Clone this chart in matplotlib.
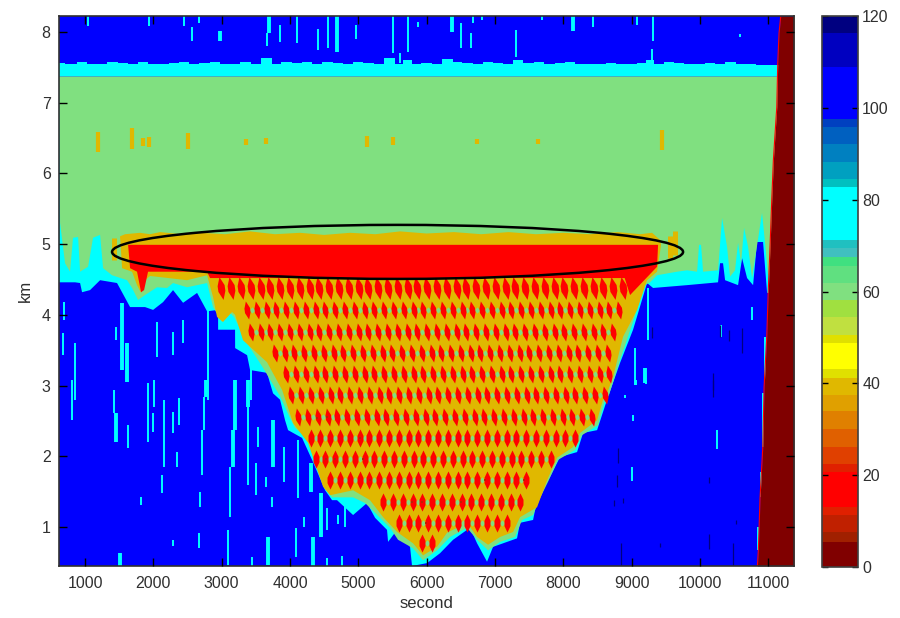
import matplotlib

matplotlib.use('Agg')  # Use a non-GUI backend
import matplotlib.pyplot as plt
import numpy as np

from matplotlib.cm import ScalarMappable
from matplotlib.colors import BoundaryNorm, ListedColormap
from matplotlib.patches import Ellipse

plt.rcParams['font.family'] = ['Liberation Sans', 'DejaVu Sans']

# colour scale
level_edges = [0, 5.5, 7.6, 11.3, 13.1, 20.6, 22.4, 26.2, 30, 33.9, 37.4, 41.2, 43.1, 48.7, 50.5, 54.4,
               58.2, 61.9, 65.6, 67.5, 69.4, 71.2, 82.7, 84.5, 88.2, 92.2, 95.9, 97.6, 108.8, 116.4, 120]
level_colors = ['#800000', '#a02000', '#c02000', '#e02000', '#ff0000', '#e02000', '#e04000', '#e06000',
                '#e08000', '#e0a000', '#e0b800', '#e0e000', '#ffff00', '#e0e000', '#c0e040', '#a0e040',
                '#80e080', '#60e080', '#40e080', '#40c0c0', '#20c0c0', '#00ffff', '#00c0c0', '#00a0c0',
                '#0080c0', '#0060c0', '#0040c0', '#0000ff', '#0000c0', '#000080']

# field values of the layers
blue_value = 100
cyan_value = 75
green_value = 60
gold_value = 40
red_value = 17
wall_value = 3
navy_value = 118
speck_value = 8

# upper edge of the cyan band near 7.5 km
band_t = [620, 800, 950, 1100, 1250, 1400, 1550, 1700, 1850, 2000, 2150, 2300, 2450, 2600, 2750, 2900, 3050, 3200,
          3350, 3500, 3665, 3800, 3950, 4100, 4250, 4400, 4550, 4700, 4850, 5000, 5150, 5300, 5465, 5600, 5714, 5850,
          6000, 6150, 6314, 6450, 6600, 6750, 6900, 7050, 7200, 7324, 7500, 7650, 7800, 7950, 8100, 8250, 8400, 8550,
          8700, 8850, 9000, 9150, 9271, 9400, 9550, 9700, 9850, 10000, 10150, 10300, 10450, 10600, 10750, 10900, 11050,
          11200]
band_h = [7.56, 7.55, 7.58, 7.54, 7.55, 7.57, 7.56, 7.54, 7.57, 7.55, 7.54, 7.56, 7.58, 7.55, 7.56, 7.57, 7.54, 7.55,
          7.58, 7.54, 7.63, 7.55, 7.57, 7.56, 7.58, 7.55, 7.57, 7.56, 7.55, 7.57, 7.56, 7.54, 7.63, 7.55, 7.60, 7.54,
          7.56, 7.55, 7.62, 7.58, 7.56, 7.55, 7.58, 7.56, 7.55, 7.60, 7.56, 7.57, 7.55, 7.56, 7.57, 7.54, 7.55, 7.54,
          7.56, 7.55, 7.54, 7.56, 7.60, 7.55, 7.57, 7.56, 7.54, 7.55, 7.56, 7.54, 7.57, 7.55, 7.54, 7.53, 7.53, 7.53]
green_top = 7.37

# top of the lower blue region
blue_t = [620, 854, 927, 956, 1073, 1220, 1468, 1659, 1878, 1996, 2142, 2288, 2435, 2640, 2786, 2947, 2948, 3196,
          3197, 3372, 3416, 3664, 3752, 3855, 3928, 3972, 4177, 4323, 4514, 4616, 4689, 4924, 5128, 5246, 5421, 5436,
          5568, 5758, 5787, 6007, 6197, 6388, 6636, 6739, 6885, 6973, 7324, 7368, 7559, 7617, 7808, 7954, 8203, 8291,
          8496, 8642, 8657, 8832, 9023, 9228, 9316, 9813, 10267, 10296, 10340, 10370, 10560, 10619, 10692, 10780,
          10838, 10926, 10985, 11200]
blue_h = [4.46, 4.46, 4.45, 4.32, 4.35, 4.49, 4.45, 4.11, 4.11, 4.07, 4.18, 4.35, 4.17, 4.31, 4.05, 4.07, 3.79, 3.79,
          3.53, 3.43, 3.22, 3.18, 2.89, 2.80, 2.51, 2.37, 2.26, 1.95, 1.52, 1.38, 1.38, 1.17, 1.34, 1.13, 0.96, 0.79,
          0.96, 0.72, 0.45, 0.49, 0.63, 0.82, 0.99, 0.77, 0.51, 0.72, 0.84, 1.06, 1.10, 1.38, 1.71, 1.99, 2.06, 2.33,
          2.37, 2.80, 2.84, 3.32, 3.79, 4.45, 4.38, 4.42, 4.46, 4.73, 4.73, 4.49, 4.42, 4.80, 4.52, 4.42,
          5.03, 5.03, 4.31, 4.31]

# lower edge of the green layer
green_t = [634, 707, 780, 824, 898, 927, 1044, 1117, 1220, 1264, 1395, 1615, 1688, 1776, 1878, 2054, 2200, 2288, 2493,
           2786, 2874, 3006, 3123, 3181, 3372, 3606, 3855, 4001, 4074, 4294, 4382, 4514, 4616, 4924, 5099, 5246, 5465,
           5582, 5802, 5948, 6153, 6344, 6592, 6739, 6900, 7076, 7295, 7398, 7559, 7661, 7778, 7925, 8174, 8277, 8510,
           8613, 8671, 8832, 9008, 9198, 9272, 9374, 9667, 9813, 9960, 9989, 10018, 10048, 10267, 10326, 10399, 10443,
           10516, 10560, 10604, 10648, 10707, 10765, 10911, 10955, 10999, 11200]
green_h = [5.30, 4.73, 4.61, 5.09, 5.10, 4.61, 4.68, 5.09, 5.13, 4.66, 4.56, 4.49, 4.38, 4.21, 4.28, 4.39, 4.38, 4.45,
           4.39, 4.45, 4.11, 3.90, 4.03, 3.97, 3.60, 3.25, 2.85, 2.54, 2.40, 2.23, 2.02, 1.55, 1.42, 1.42, 1.34, 1.20,
           0.99, 0.82, 0.70, 0.53, 0.67, 0.86, 0.99, 0.82, 0.67, 0.79, 0.86, 1.10, 1.17, 1.41, 1.64, 1.95, 2.09, 2.30,
           2.44, 2.80, 2.87, 3.36, 3.86, 4.42, 4.46, 4.56, 4.61, 4.63, 4.61, 4.99, 4.99, 4.61, 4.63, 5.37, 4.96, 4.54,
           4.63, 5.02, 4.73, 5.23, 4.96, 4.52, 5.44, 5.02, 4.56, 4.56]

# outline of the gold layer
gold_t = [1512, 1586, 1805, 1950, 2098, 2400, 2684, 3050, 3416, 3780, 4148, 4500, 4880, 5250, 5612, 6000, 6400, 6800,
          7200, 7600, 8000, 8400, 8800, 9125, 9301, 9418, 9433, 9374, 9228, 9081, 8876, 8730, 8642, 8584, 8496, 8247,
          8144, 7910, 7764, 7617, 7368, 7266, 7076, 6900, 6739, 6592, 6300, 6153, 5948, 5802, 5568, 5363, 5172, 4924,
          4587, 4484, 4265, 4045, 3884, 3664, 3313, 3196, 3152, 3020, 2932, 2874, 2786, 2493, 1952, 1878, 1820, 1761,
          1688, 1542]
gold_h = [5.11, 5.14, 5.16, 5.14, 5.17, 5.14, 5.16, 5.14, 5.18, 5.14, 5.16, 5.13, 5.16, 5.14, 5.18, 5.15, 5.17, 5.14,
          5.17, 5.14, 5.16, 5.14, 5.17, 5.14, 5.16, 5.06, 4.99, 4.61, 4.49, 4.07, 3.69, 3.12, 2.89, 2.80, 2.51, 2.33,
          2.13, 1.98, 1.66, 1.28, 1.14, 0.93, 0.86, 0.75, 0.86, 1.06, 0.92, 0.72, 0.60, 0.77, 0.93, 1.14, 1.38, 1.52,
          1.45, 1.57, 2.19, 2.47, 2.94, 3.33, 3.64, 4.00, 4.04, 3.90, 3.97, 4.25, 4.56, 4.49, 4.55, 4.49, 4.31, 4.42,
          4.61, 4.66]

# small gold patches beside the main layer
side_gold_t = [1430, 9560, 9640]
side_gold_lo = [4.77, 4.80, 4.85]
side_gold_hi = [5.08, 5.12, 5.18]

# gold specks inside the green layer
speck_gold_t = [1186, 1688, 1849, 1937, 2508, 3357, 3650, 5128, 5509, 6739, 7632, 9447]
speck_gold_lo = [6.30, 6.35, 6.39, 6.37, 6.35, 6.40, 6.42, 6.37, 6.40, 6.42, 6.42, 6.33]
speck_gold_hi = [6.59, 6.64, 6.50, 6.52, 6.57, 6.49, 6.50, 6.53, 6.52, 6.49, 6.49, 6.61]

# solid red layer
red_t = [1630, 9389, 9374, 8979, 8900, 2830, 2786, 1922, 1864, 1820, 1761, 1659]
red_h = [4.99, 4.99, 4.68, 4.28, 4.52, 4.52, 4.61, 4.61, 4.35, 4.32, 4.61, 4.66]

# red lozenges: column times of one row, then row height, shift and extent
lozenge_cols = [2152, 2295, 2439, 2582, 2726, 2869, 3012, 3156, 3299, 3443, 3586, 3729, 3873, 4016, 4160, 4303, 4446,
                4590, 4733, 4876, 5020, 5163, 5307, 5450, 5593, 5737, 5880, 6024, 6167, 6310, 6454, 6597, 6741, 6884,
                7027, 7171, 7314, 7458, 7601, 7744, 7888, 8031, 8175, 8318, 8461, 8605, 8748, 8892, 9035, 9178, 9322]
row_h = [4.38, 4.07, 3.76, 3.46, 3.16, 2.87, 2.56, 2.26, 1.96, 1.66, 1.35, 1.06, 0.77]
row_shift = [-15, 72, -15, 48, 72, 5, -39, 0, 73, 0, 59, 0, 50]
row_start = [2860, 3240, 3300, 3650, 3855, 3930, 4075, 4190, 4370, 4590, 5360, 5590, 5900]
row_end = [8980, 8950, 8860, 8760, 8680, 8610, 8470, 8180, 7890, 7600, 7500, 7300, 6100]

# dark specks inside the lozenges
speck_t = [4396, 4543, 5026, 4528, 4660, 5070, 5172, 5787, 5934, 6505, 5992, 6856, 7427]
speck_h = [2.54, 2.55, 2.26, 1.96, 1.96, 1.96, 1.66, 1.35, 1.35, 1.35, 1.06, 1.66, 1.66]

# thin cyan streaks in the blue regions
thin_t = [810, 1425, 1922, 2010, 1996, 1630, 2157, 2288, 2376, 2347, 2127, 1820, 2684, 2669, 2288, 2742, 2713, 3123,
          3094, 3386, 3533, 3503, 3650, 3738, 3913, 4118, 4089, 4206, 4543, 4704, 4806, 4543, 4763, 3445,
          693, 678, 854, 1454, 2054, 2288, 2435, 2801, 3430,
          10252, 9008, 9023, 9066, 9213, 8906, 9052, 9242, 10765, 10311,
          10955, 10926, 10897, 10853,
          1044, 1937, 2449, 2669, 2566, 3664, 3855, 4104, 4411, 4558, 4967, 5509, 5612, 5729, 5875, 6505, 6651, 6680,
          6812, 7310, 7691, 8144, 8437, 9081, 9316, 9301, 10589]
thin_lo = [2.51, 2.61, 2.20, 2.70, 2.34, 2.12, 1.85, 2.33, 2.44, 1.85, 1.48, 1.31, 1.28, 0.70, 0.73, 2.37, 1.74, 1.14,
           0.46, 1.59, 2.13, 1.45, 1.57, 1.28, 1.64, 1.41, 0.58, 1.00, 0.96, 1.04, 1.00, 0.45, 0.45, 0.45,
           3.93, 3.43, 2.80, 3.64, 3.40, 3.43, 3.60, 2.80, 2.80,
           2.10, 1.65, 2.50, 3.01, 3.02, 2.82, 3.01, 3.64, 3.93, 3.69,
           3.08, 2.13, 1.42, 0.67,
           8.08, 8.08, 8.08, 8.13, 7.87, 7.80, 7.86, 7.84, 7.74, 7.77, 7.90, 7.70, 7.56, 7.72, 8.07, 7.77, 7.77, 8.13,
           8.17, 7.65, 8.17, 8.01, 8.07, 8.10, 7.87, 7.58, 7.93]
thin_hi = [3.08, 2.94, 3.04, 3.08, 2.61, 2.44, 2.80, 2.63, 2.82, 2.06, 1.74, 1.42, 1.49, 0.92, 0.82, 2.84, 2.37, 1.85,
           0.96, 2.70, 2.41, 1.90, 1.71, 1.42, 2.13, 2.23, 0.99, 1.14, 1.27, 1.17, 1.35, 0.56, 0.59, 0.58,
           4.18, 3.74, 3.60, 3.83, 3.90, 3.76, 3.93, 4.07, 3.22,
           2.37, 1.85, 2.58, 3.08, 3.08, 2.87, 3.53, 4.38, 4.11, 3.86,
           3.69, 2.89, 1.78, 1.00,
           8.23, 8.23, 8.23, 8.23, 8.07, 7.99, 8.10, 8.23, 8.04, 8.23, 8.10, 8.23, 7.70, 8.23, 8.14, 8.13, 7.98, 8.23,
           8.23, 8.03, 8.23, 8.23, 8.23, 8.23, 8.23, 7.76, 7.97]

# wider cyan streaks
wide_t = [1454, 3196, 3167, 3386, 3752, 4309, 4455, 4338, 1512, 3679, 2771, 1542, 1615, 2976, 3694, 4689, 9198, 6373,
          8144]
wide_lo = [2.20, 2.37, 1.85, 2.70, 1.85, 1.49, 0.86, 0.45, 0.45, 0.46, 2.84, 3.22, 3.05, 7.87, 7.99, 7.72, 3.04, 8.00,
           8.01]
wide_hi = [2.61, 3.08, 2.37, 3.08, 2.51, 1.90, 1.48, 0.86, 0.63, 0.86, 3.08, 4.17, 3.60, 8.01, 8.23, 8.23, 3.25, 8.23,
           8.23]

# dark navy streaks
navy_t = [10194, 8803, 8788, 8744, 8876, 10135, 10531, 10135, 10487, 9418, 8847, 9301, 10428, 10619, 10296, 10194]
navy_lo = [2.84, 1.90, 1.57, 1.30, 1.34, 1.62, 1.04, 0.69, 0.45, 0.72, 0.45, 3.67, 3.63, 3.46, 3.69, 2.94]
navy_hi = [3.08, 2.12, 1.74, 1.38, 1.41, 1.71, 1.10, 0.90, 0.77, 0.77, 0.77, 3.83, 3.79, 3.81, 3.86, 3.18]

# dark red wall on the right
wall_t = [11185, 11160, 11141, 11127, 11077, 11053, 11028, 11004, 10980, 10941, 10922, 10882, 10857, 10843]
wall_h = [8.225, 7.985, 7.56, 6.94, 6.19, 5.62, 4.96, 4.39, 3.69, 2.98, 2.13, 1.42, 0.67, 0.45]

# hand drawn ellipse
ellipse_t = 5575
ellipse_h = 4.89
ellipse_width = 8360
ellipse_height = 0.764

x_ticks = [1000, 2000, 3000, 4000, 5000, 6000, 7000, 8000, 9000, 10000, 11000]
y_ticks = [1, 2, 3, 4, 5, 6, 7, 8]
bar_ticks = [0, 20, 40, 60, 80, 100, 120]

cmap = ListedColormap(level_colors)
norm = BoundaryNorm(level_edges, cmap.N)


def field(value):
    return cmap(norm(value))


fig = plt.figure(figsize=(9, 6.18), dpi=100)
ax = fig.add_axes([0.0656, 0.0841, 0.8167, 0.89])
ax.set_facecolor(field(blue_value))
ax.set_xlim(619, 11380)
ax.set_ylim(0.449, 8.225)
ax.set_axisbelow(False)

# layers, back to front
ax.fill_between(band_t, band_h, green_top, step='mid', color=field(cyan_value), lw=0, zorder=1)
ax.fill(blue_t + [11200, 620], blue_h + [green_top, green_top], color=field(cyan_value), lw=0, zorder=1)
ax.vlines(thin_t, thin_lo, thin_hi, color=field(cyan_value), lw=1.4, zorder=1.1)
ax.vlines(wide_t, wide_lo, wide_hi, color=field(cyan_value), lw=2.8, zorder=1.1)
ax.vlines(navy_t, navy_lo, navy_hi, color=field(navy_value), lw=0.9, zorder=1.1)
ax.fill(green_t + [11200, 620], green_h + [green_top, green_top], color=field(green_value), lw=0, zorder=1.2)
ax.vlines(speck_gold_t, speck_gold_lo, speck_gold_hi, color=field(gold_value), lw=3, zorder=1.3)
ax.vlines(side_gold_t, side_gold_lo, side_gold_hi, color=field(gold_value), lw=3.6, zorder=1.3)
ax.fill(gold_t, gold_h, color=field(gold_value), lw=0, zorder=1.3)
ax.fill(red_t, red_h, color=field(red_value), lw=0, zorder=1.4)

# lozenges, leaning in the upper rows
lean = [(-0.18, 1), (0.27, 0.3), (0.34, -0.2), (0.18, -1), (-0.27, -0.3), (-0.34, 0.2)]
upright = [(0, 1), (0.33, 0.3), (0.33, -0.3), (0, -1), (-0.33, -0.3), (-0.33, 0.3)]
cols = np.array(lozenge_cols)
for h, shift, start, end in zip(row_h, row_shift, row_start, row_end):
    t = cols + shift
    t = t[(t >= start) & (t <= end)]
    marker = lean if h > 2.3 else upright
    size = 270 if h > 4.2 else 170
    if h < 4.2:
        ax.scatter(t[:-1] + 72, np.full(t.size - 1, h), marker='D', s=10, color=field(green_value), linewidths=0,
                   zorder=1.45)
    ax.scatter(t, np.full(t.size, h), marker=marker, s=size, color=field(red_value), linewidths=0, zorder=1.5)
ax.scatter(speck_t, speck_h, marker='s', s=3, color=field(speck_value), linewidths=0, zorder=1.6)

ax.fill_betweenx(wall_h, wall_t, 11380, color=field(wall_value), lw=0, zorder=1.8)
ax.plot(wall_t, wall_h, color=field(red_value), lw=0.8, zorder=1.9)

ax.add_patch(Ellipse((ellipse_t, ellipse_h), ellipse_width, ellipse_height, fill=False, edgecolor='black', lw=1.8,
                     zorder=2.4))

ax.set_xticks(x_ticks)
ax.set_yticks(y_ticks)
ax.tick_params(direction='in', top=True, right=True, length=5.5, width=1, color='black', labelsize=11.5,
               labelcolor='#303030')
ax.tick_params(axis='x', pad=7)
ax.tick_params(axis='y', pad=6)
ax.set_xlabel('second', fontsize=12, color='#303030', labelpad=4)
ax.set_ylabel('km', fontsize=12, color='#303030', labelpad=6)
for spine in ax.spines.values():
    spine.set_color('#303030')
    spine.set_linewidth(1.2)

cax = fig.add_axes([0.9133, 0.0825, 0.04, 0.8916])
bar = fig.colorbar(ScalarMappable(norm=norm, cmap=cmap), cax=cax, spacing='proportional', ticks=bar_ticks)
bar.minorticks_off()
bar.set_ticklabels([str(v) for v in bar_ticks])
bar.outline.set_edgecolor('#404040')
bar.outline.set_linewidth(1.2)
cax.tick_params(direction='in', left=True, right=True, length=4.5, width=1, color='black', labelsize=11.5,
                labelcolor='#303030', pad=3)

plt.savefig('out.png', dpi=100)
plt.close(fig)
